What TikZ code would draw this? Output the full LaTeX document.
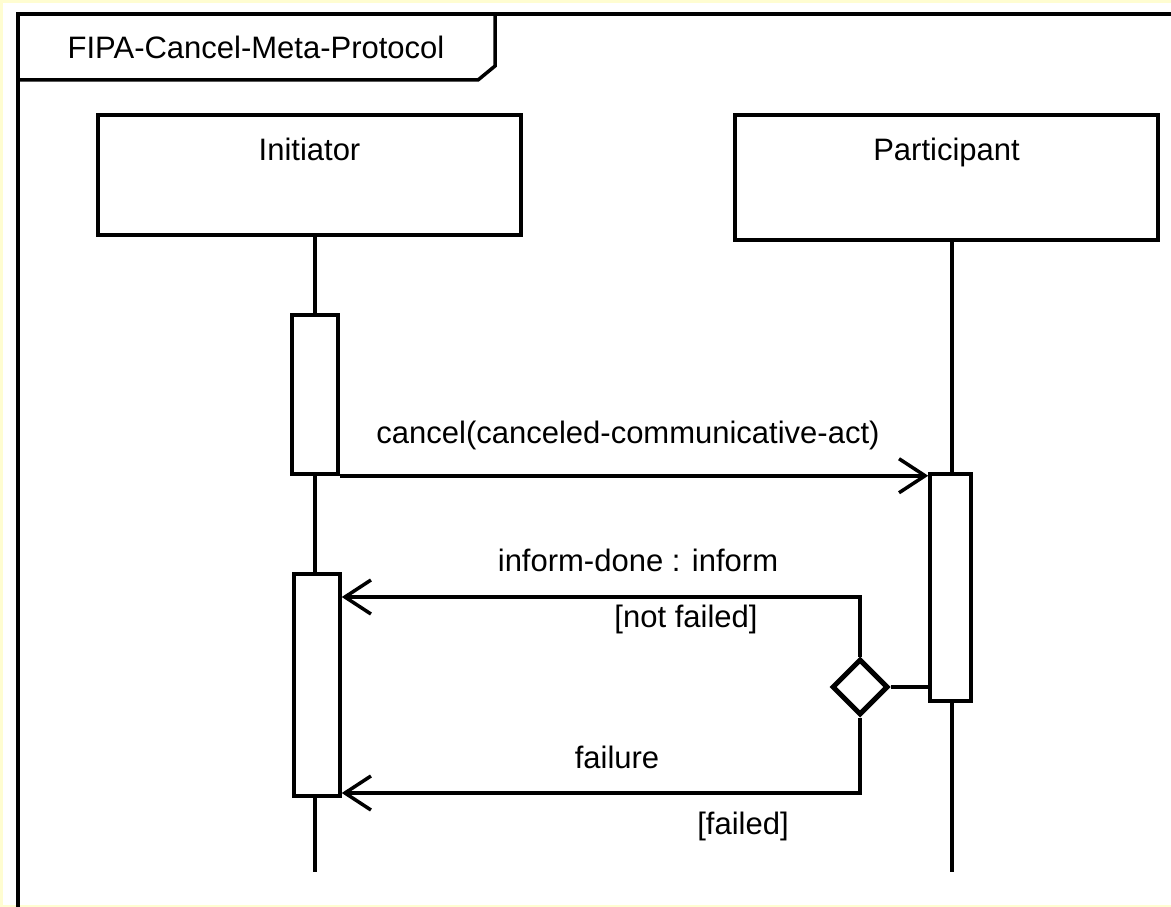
\documentclass[tikz,border=0pt]{standalone}
\usepackage{fontspec}
\setmainfont{Liberation Sans}
\usetikzlibrary{shapes.geometric,arrows.meta}

\tikzset{
  lifebox/.style = {draw, minimum width = 423pt, inner sep = 0pt},
  actbox/.style = {draw, fill = white, inner sep = 0pt},
  msg/.style = {-{Straight Barb[length = 26pt, width = 34pt, line width = 3.5pt]}}
}

\begin{document}
\begin{tikzpicture}[x = 1pt, y = -1pt, line width = 3.5pt,
    font = \fontsize{31}{36}\selectfont]
            \useasboundingbox (0,0) rectangle (1171,907);
            \fill[yellow!18] (0,0) rectangle (1171,907);
            \fill[white] (3,3) rectangle (1171,905);

            % frame and its name tag
            \draw (18,920) -- (18,14) -- (1180,14);
            \draw (18,80) -- (478,80) -- (495,66) -- (495,14);
            \node (title) at (256,47) {FIPA-Cancel-Meta-Protocol};

            % roles
            \node[lifebox, minimum height = 120pt,
              label = {[anchor = north, yshift = -20pt]north:Initiator}]
              (init) at (309.5,175) {};
            \node[lifebox, minimum height = 125pt,
              label = {[anchor = north, yshift = -20pt]north:Participant}]
              (part) at (946.5,177.5) {};

            % lifelines
            \coordinate (initend) at (315,872);
            \coordinate (partend) at (952,872);
            \draw (init.south -| initend) -- (initend);
            \draw (part.south -| partend) -- (partend);

            % activations
            \node[actbox, minimum width = 46pt, minimum height = 159pt]
              (act1) at (315,394.5) {};
            \node[actbox, minimum width = 46pt, minimum height = 222pt]
              (act2) at (317,685) {};
            \node[actbox, minimum width = 41pt, minimum height = 227pt]
              (actp) at (950.5,587.5) {};

            % cancel
            \draw[msg] (act1.south east) -- node[above = 21pt, xshift = -6pt]
              {cancel(canceled-communicative-act)} (act1.south east -| actp.west);

            % decision
            \node[diamond, draw, line width = 5pt, minimum width = 56pt,
              minimum height = 56pt, inner sep = 0pt] (dec) at (860,687) {};
            \draw (dec.east) -- (dec.east -| actp.west);

            \coordinate (okturn) at (860,597);
            \coordinate (failturn) at (860,793);
            \draw[msg] (dec.north) -- (okturn) -- (okturn -| act2.east);
            \draw[msg] (dec.south) -- (failturn) -- (failturn -| act2.east);

            \node (oklabel) at (638,560) {inform-done : inform};
            \node (okguard) at (686,619) {[not failed]};
            \node (faillabel) at (617,757) {failure};
            \node (failguard) at (743,826) {[failed]};
        \end{tikzpicture}
\end{document}
